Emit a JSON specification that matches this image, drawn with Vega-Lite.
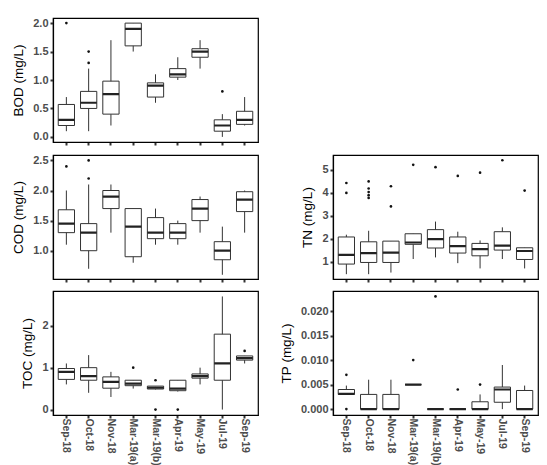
{
  "$schema": "https://vega.github.io/schema/vega-lite/v6.json",
  "padding": {"left": 11, "top": 16, "right": 5, "bottom": 0},
  "background": "white",
  "columns": 2,
  "spacing": {"row": 6, "column": 19},
  "datasets": {
    "stats": [
      {"v":"BOD","m":"Sep-18","lo":0.1,"q1":0.2,"med":0.3,"q3":0.57,"hi":0.7},
      {"v":"BOD","m":"Oct-18","lo":0.1,"q1":0.5,"med":0.6,"q3":0.8,"hi":1.2},
      {"v":"BOD","m":"Nov-18","lo":0.2,"q1":0.4,"med":0.75,"q3":0.98,"hi":1.7},
      {"v":"BOD","m":"Mar-19(a)","lo":1.5,"q1":1.6,"med":1.9,"q3":2.0,"hi":2.0},
      {"v":"BOD","m":"Mar-19(b)","lo":0.6,"q1":0.7,"med":0.9,"q3":0.95,"hi":1.1},
      {"v":"BOD","m":"Apr-19","lo":1.0,"q1":1.05,"med":1.1,"q3":1.2,"hi":1.4},
      {"v":"BOD","m":"May-19","lo":1.2,"q1":1.4,"med":1.5,"q3":1.55,"hi":1.7},
      {"v":"BOD","m":"Jul-19","lo":0.0,"q1":0.1,"med":0.2,"q3":0.3,"hi":0.4},
      {"v":"BOD","m":"Sep-19","lo":0.2,"q1":0.22,"med":0.3,"q3":0.45,"hi":0.7},
      {"v":"COD","m":"Sep-18","lo":1.1,"q1":1.3,"med":1.45,"q3":1.68,"hi":2.0},
      {"v":"COD","m":"Oct-18","lo":0.7,"q1":1.0,"med":1.3,"q3":1.45,"hi":2.1},
      {"v":"COD","m":"Nov-18","lo":1.3,"q1":1.7,"med":1.9,"q3":2.0,"hi":2.1},
      {"v":"COD","m":"Mar-19(a)","lo":0.8,"q1":0.9,"med":1.4,"q3":1.7,"hi":1.7},
      {"v":"COD","m":"Mar-19(b)","lo":1.1,"q1":1.2,"med":1.3,"q3":1.55,"hi":1.7},
      {"v":"COD","m":"Apr-19","lo":1.1,"q1":1.2,"med":1.3,"q3":1.45,"hi":1.5},
      {"v":"COD","m":"May-19","lo":1.3,"q1":1.5,"med":1.7,"q3":1.85,"hi":1.9},
      {"v":"COD","m":"Jul-19","lo":0.6,"q1":0.85,"med":1.0,"q3":1.15,"hi":1.4},
      {"v":"COD","m":"Sep-19","lo":1.3,"q1":1.65,"med":1.85,"q3":1.98,"hi":2.0},
      {"v":"TOC","m":"Sep-18","lo":0.6,"q1":0.72,"med":0.9,"q3":0.98,"hi":1.1},
      {"v":"TOC","m":"Oct-18","lo":0.4,"q1":0.7,"med":0.8,"q3":1.0,"hi":1.3},
      {"v":"TOC","m":"Nov-18","lo":0.3,"q1":0.51,"med":0.66,"q3":0.78,"hi":0.9},
      {"v":"TOC","m":"Mar-19(a)","lo":0.5,"q1":0.57,"med":0.62,"q3":0.7,"hi":0.7},
      {"v":"TOC","m":"Mar-19(b)","lo":0.48,"q1":0.49,"med":0.52,"q3":0.56,"hi":0.56},
      {"v":"TOC","m":"Apr-19","lo":0.43,"q1":0.45,"med":0.5,"q3":0.7,"hi":0.7},
      {"v":"TOC","m":"May-19","lo":0.6,"q1":0.75,"med":0.8,"q3":0.85,"hi":1.0},
      {"v":"TOC","m":"Jul-19","lo":0.0,"q1":0.7,"med":1.1,"q3":1.8,"hi":2.7},
      {"v":"TOC","m":"Sep-19","lo":1.1,"q1":1.18,"med":1.23,"q3":1.28,"hi":1.28},
      {"v":"TN","m":"Sep-18","lo":0.46,"q1":0.9,"med":1.3,"q3":2.08,"hi":2.18},
      {"v":"TN","m":"Oct-18","lo":0.46,"q1":0.97,"med":1.38,"q3":1.87,"hi":2.35},
      {"v":"TN","m":"Nov-18","lo":0.53,"q1":0.97,"med":1.4,"q3":1.9,"hi":1.9},
      {"v":"TN","m":"Mar-19(a)","lo":1.12,"q1":1.76,"med":1.84,"q3":2.22,"hi":2.22},
      {"v":"TN","m":"Mar-19(b)","lo":1.19,"q1":1.6,"med":1.99,"q3":2.4,"hi":2.75},
      {"v":"TN","m":"Apr-19","lo":0.94,"q1":1.38,"med":1.68,"q3":2.08,"hi":2.31},
      {"v":"TN","m":"May-19","lo":0.71,"q1":1.26,"med":1.55,"q3":1.8,"hi":1.93},
      {"v":"TN","m":"Jul-19","lo":1.12,"q1":1.51,"med":1.7,"q3":2.31,"hi":2.5},
      {"v":"TN","m":"Sep-19","lo":0.71,"q1":1.1,"med":1.47,"q3":1.61,"hi":1.61},
      {"v":"TP","m":"Sep-18","lo":0.003,"q1":0.003,"med":0.0031,"q3":0.004,"hi":0.0048},
      {"v":"TP","m":"Oct-18","lo":0,"q1":0,"med":0,"q3":0.003,"hi":0.006},
      {"v":"TP","m":"Nov-18","lo":0,"q1":0,"med":0,"q3":0.003,"hi":0.006},
      {"v":"TP","m":"Mar-19(a)","lo":0.005,"q1":0.005,"med":0.005,"q3":0.005,"hi":0.005},
      {"v":"TP","m":"Mar-19(b)","lo":0,"q1":0,"med":0,"q3":0,"hi":0},
      {"v":"TP","m":"Apr-19","lo":0,"q1":0,"med":0,"q3":0,"hi":0},
      {"v":"TP","m":"May-19","lo":0,"q1":0,"med":0,"q3":0.0015,"hi":0.003},
      {"v":"TP","m":"Jul-19","lo":0,"q1":0.0014,"med":0.004,"q3":0.0045,"hi":0.009},
      {"v":"TP","m":"Sep-19","lo":0,"q1":0,"med":0,"q3":0.0038,"hi":0.0048}
    ],
    "outliers": [
      {"v":"BOD","m":"Sep-18","value":2.0},
      {"v":"BOD","m":"Oct-18","value":1.5},
      {"v":"BOD","m":"Oct-18","value":1.3},
      {"v":"BOD","m":"Jul-19","value":0.8},
      {"v":"COD","m":"Sep-18","value":2.4},
      {"v":"COD","m":"Oct-18","value":2.5},
      {"v":"COD","m":"Oct-18","value":2.2},
      {"v":"TOC","m":"Mar-19(a)","value":1.0},
      {"v":"TOC","m":"Mar-19(b)","value":0.7},
      {"v":"TOC","m":"Mar-19(b)","value":0.0},
      {"v":"TOC","m":"Apr-19","value":0.0},
      {"v":"TOC","m":"Sep-19","value":1.4},
      {"v":"TN","m":"Sep-18","value":4.43},
      {"v":"TN","m":"Sep-18","value":4.0},
      {"v":"TN","m":"Oct-18","value":4.5},
      {"v":"TN","m":"Oct-18","value":4.19},
      {"v":"TN","m":"Oct-18","value":4.04},
      {"v":"TN","m":"Oct-18","value":3.9},
      {"v":"TN","m":"Oct-18","value":3.78},
      {"v":"TN","m":"Nov-18","value":4.29},
      {"v":"TN","m":"Nov-18","value":3.41},
      {"v":"TN","m":"Mar-19(a)","value":5.22},
      {"v":"TN","m":"Mar-19(b)","value":5.12},
      {"v":"TN","m":"Apr-19","value":4.74},
      {"v":"TN","m":"May-19","value":4.88},
      {"v":"TN","m":"Jul-19","value":5.42},
      {"v":"TN","m":"Sep-19","value":4.1},
      {"v":"TP","m":"Sep-18","value":0.007},
      {"v":"TP","m":"Sep-18","value":0.0},
      {"v":"TP","m":"Mar-19(a)","value":0.01},
      {"v":"TP","m":"Mar-19(b)","value":0.023},
      {"v":"TP","m":"Apr-19","value":0.004},
      {"v":"TP","m":"May-19","value":0.005}
    ]
  },
  "concat": [
    {
      "width": 205, "height": 124,
      "encoding": {"x": {"field": "m", "type": "nominal", "sort": ["Sep-18","Oct-18","Nov-18","Mar-19(a)","Mar-19(b)","Apr-19","May-19","Jul-19","Sep-19"], "scale": {"type": "band", "paddingInner": 0.27, "paddingOuter": 0.235}, "axis": {"labels": false, "title": null}}},
      "layer": [
        {"data": {"name": "stats"}, "transform": [{"filter": "datum.v === 'BOD'"}], "mark": {"type": "rule", "color": "#333", "strokeWidth": 1},
         "encoding": {"y": {"field": "lo", "type": "quantitative", "title": "BOD (mg/L)", "scale": {"domain": [-0.09, 2.09], "nice": false, "zero": false}, "axis": {"values": [0, 0.5, 1, 1.5, 2], "format": ".1f"}}, "y2": {"field": "hi"}}},
        {"data": {"name": "stats"}, "transform": [{"filter": "datum.v === 'BOD'"}], "mark": {"type": "bar", "fill": "white", "stroke": "#333", "strokeWidth": 1},
         "encoding": {"y": {"field": "q1", "type": "quantitative", "title": "BOD (mg/L)", "scale": {"domain": [-0.09, 2.09], "nice": false, "zero": false}, "axis": {"values": [0, 0.5, 1, 1.5, 2], "format": ".1f"}}, "y2": {"field": "q3"}}},
        {"data": {"name": "stats"}, "transform": [{"filter": "datum.v === 'BOD'"}], "mark": {"type": "bar", "fill": "#222", "stroke": "#222", "strokeWidth": 2.2},
         "encoding": {"y": {"field": "med", "type": "quantitative", "title": "BOD (mg/L)", "scale": {"domain": [-0.09, 2.09], "nice": false, "zero": false}, "axis": {"values": [0, 0.5, 1, 1.5, 2], "format": ".1f"}}, "y2": {"field": "med"}}},
        {"data": {"name": "outliers"}, "transform": [{"filter": "datum.v === 'BOD'"}], "mark": {"type": "circle", "size": 7, "color": "#111", "opacity": 1},
         "encoding": {"y": {"field": "value", "type": "quantitative", "title": "BOD (mg/L)", "scale": {"domain": [-0.09, 2.09], "nice": false, "zero": false}, "axis": {"values": [0, 0.5, 1, 1.5, 2], "format": ".1f"}}}}
      ]
    },
    {
      "width": 205, "height": 124,
      "view": {"stroke": null},
      "data": {"values": [{}]},
      "mark": {"type": "point", "opacity": 0}
    },
    {
      "width": 205, "height": 124,
      "encoding": {"x": {"field": "m", "type": "nominal", "sort": ["Sep-18","Oct-18","Nov-18","Mar-19(a)","Mar-19(b)","Apr-19","May-19","Jul-19","Sep-19"], "scale": {"type": "band", "paddingInner": 0.27, "paddingOuter": 0.235}, "axis": {"labels": false, "title": null}}},
      "layer": [
        {"data": {"name": "stats"}, "transform": [{"filter": "datum.v === 'COD'"}], "mark": {"type": "rule", "color": "#333", "strokeWidth": 1},
         "encoding": {"y": {"field": "lo", "type": "quantitative", "title": "COD (mg/L)", "scale": {"domain": [0.53, 2.59], "nice": false, "zero": false}, "axis": {"values": [1, 1.5, 2, 2.5], "format": ".1f"}}, "y2": {"field": "hi"}}},
        {"data": {"name": "stats"}, "transform": [{"filter": "datum.v === 'COD'"}], "mark": {"type": "bar", "fill": "white", "stroke": "#333", "strokeWidth": 1},
         "encoding": {"y": {"field": "q1", "type": "quantitative", "title": "COD (mg/L)", "scale": {"domain": [0.53, 2.59], "nice": false, "zero": false}, "axis": {"values": [1, 1.5, 2, 2.5], "format": ".1f"}}, "y2": {"field": "q3"}}},
        {"data": {"name": "stats"}, "transform": [{"filter": "datum.v === 'COD'"}], "mark": {"type": "bar", "fill": "#222", "stroke": "#222", "strokeWidth": 2.2},
         "encoding": {"y": {"field": "med", "type": "quantitative", "title": "COD (mg/L)", "scale": {"domain": [0.53, 2.59], "nice": false, "zero": false}, "axis": {"values": [1, 1.5, 2, 2.5], "format": ".1f"}}, "y2": {"field": "med"}}},
        {"data": {"name": "outliers"}, "transform": [{"filter": "datum.v === 'COD'"}], "mark": {"type": "circle", "size": 7, "color": "#111", "opacity": 1},
         "encoding": {"y": {"field": "value", "type": "quantitative", "title": "COD (mg/L)", "scale": {"domain": [0.53, 2.59], "nice": false, "zero": false}, "axis": {"values": [1, 1.5, 2, 2.5], "format": ".1f"}}}}
      ]
    },
    {
      "width": 205, "height": 124,
      "encoding": {"x": {"field": "m", "type": "nominal", "sort": ["Sep-18","Oct-18","Nov-18","Mar-19(a)","Mar-19(b)","Apr-19","May-19","Jul-19","Sep-19"], "scale": {"type": "band", "paddingInner": 0.27, "paddingOuter": 0.235}, "axis": {"labels": false, "title": null}}},
      "layer": [
        {"data": {"name": "stats"}, "transform": [{"filter": "datum.v === 'TN'"}], "mark": {"type": "rule", "color": "#333", "strokeWidth": 1},
         "encoding": {"y": {"field": "lo", "type": "quantitative", "title": "TN (mg/L)", "scale": {"domain": [0.25, 5.65], "nice": false, "zero": false}, "axis": {"values": [1, 2, 3, 4, 5], "format": "d"}}, "y2": {"field": "hi"}}},
        {"data": {"name": "stats"}, "transform": [{"filter": "datum.v === 'TN'"}], "mark": {"type": "bar", "fill": "white", "stroke": "#333", "strokeWidth": 1},
         "encoding": {"y": {"field": "q1", "type": "quantitative", "title": "TN (mg/L)", "scale": {"domain": [0.25, 5.65], "nice": false, "zero": false}, "axis": {"values": [1, 2, 3, 4, 5], "format": "d"}}, "y2": {"field": "q3"}}},
        {"data": {"name": "stats"}, "transform": [{"filter": "datum.v === 'TN'"}], "mark": {"type": "bar", "fill": "#222", "stroke": "#222", "strokeWidth": 2.2},
         "encoding": {"y": {"field": "med", "type": "quantitative", "title": "TN (mg/L)", "scale": {"domain": [0.25, 5.65], "nice": false, "zero": false}, "axis": {"values": [1, 2, 3, 4, 5], "format": "d"}}, "y2": {"field": "med"}}},
        {"data": {"name": "outliers"}, "transform": [{"filter": "datum.v === 'TN'"}], "mark": {"type": "circle", "size": 7, "color": "#111", "opacity": 1},
         "encoding": {"y": {"field": "value", "type": "quantitative", "title": "TN (mg/L)", "scale": {"domain": [0.25, 5.65], "nice": false, "zero": false}, "axis": {"values": [1, 2, 3, 4, 5], "format": "d"}}}}
      ]
    },
    {
      "width": 205, "height": 124,
      "encoding": {"x": {"field": "m", "type": "nominal", "sort": ["Sep-18","Oct-18","Nov-18","Mar-19(a)","Mar-19(b)","Apr-19","May-19","Jul-19","Sep-19"], "scale": {"type": "band", "paddingInner": 0.27, "paddingOuter": 0.235}, "axis": {"labelAngle": 90, "labelPadding": 0, "labelFontSize": 10.5, "title": null}}},
      "layer": [
        {"data": {"name": "stats"}, "transform": [{"filter": "datum.v === 'TOC'"}], "mark": {"type": "rule", "color": "#333", "strokeWidth": 1},
         "encoding": {"y": {"field": "lo", "type": "quantitative", "title": "TOC (mg/L)", "scale": {"domain": [-0.13, 2.83], "nice": false, "zero": false}, "axis": {"values": [0, 1, 2], "format": "d"}}, "y2": {"field": "hi"}}},
        {"data": {"name": "stats"}, "transform": [{"filter": "datum.v === 'TOC'"}], "mark": {"type": "bar", "fill": "white", "stroke": "#333", "strokeWidth": 1},
         "encoding": {"y": {"field": "q1", "type": "quantitative", "title": "TOC (mg/L)", "scale": {"domain": [-0.13, 2.83], "nice": false, "zero": false}, "axis": {"values": [0, 1, 2], "format": "d"}}, "y2": {"field": "q3"}}},
        {"data": {"name": "stats"}, "transform": [{"filter": "datum.v === 'TOC'"}], "mark": {"type": "bar", "fill": "#222", "stroke": "#222", "strokeWidth": 2.2},
         "encoding": {"y": {"field": "med", "type": "quantitative", "title": "TOC (mg/L)", "scale": {"domain": [-0.13, 2.83], "nice": false, "zero": false}, "axis": {"values": [0, 1, 2], "format": "d"}}, "y2": {"field": "med"}}},
        {"data": {"name": "outliers"}, "transform": [{"filter": "datum.v === 'TOC'"}], "mark": {"type": "circle", "size": 7, "color": "#111", "opacity": 1},
         "encoding": {"y": {"field": "value", "type": "quantitative", "title": "TOC (mg/L)", "scale": {"domain": [-0.13, 2.83], "nice": false, "zero": false}, "axis": {"values": [0, 1, 2], "format": "d"}}}}
      ]
    },
    {
      "width": 205, "height": 124,
      "encoding": {"x": {"field": "m", "type": "nominal", "sort": ["Sep-18","Oct-18","Nov-18","Mar-19(a)","Mar-19(b)","Apr-19","May-19","Jul-19","Sep-19"], "scale": {"type": "band", "paddingInner": 0.27, "paddingOuter": 0.235}, "axis": {"labelAngle": 90, "labelPadding": 0, "labelFontSize": 10.5, "title": null}}},
      "layer": [
        {"data": {"name": "stats"}, "transform": [{"filter": "datum.v === 'TP'"}], "mark": {"type": "rule", "color": "#333", "strokeWidth": 1},
         "encoding": {"y": {"field": "lo", "type": "quantitative", "title": "TP (mg/L)", "scale": {"domain": [-0.0012, 0.0241], "nice": false, "zero": false}, "axis": {"values": [0, 0.005, 0.01, 0.015, 0.02], "format": ".3f"}}, "y2": {"field": "hi"}}},
        {"data": {"name": "stats"}, "transform": [{"filter": "datum.v === 'TP'"}], "mark": {"type": "bar", "fill": "white", "stroke": "#333", "strokeWidth": 1},
         "encoding": {"y": {"field": "q1", "type": "quantitative", "title": "TP (mg/L)", "scale": {"domain": [-0.0012, 0.0241], "nice": false, "zero": false}, "axis": {"values": [0, 0.005, 0.01, 0.015, 0.02], "format": ".3f"}}, "y2": {"field": "q3"}}},
        {"data": {"name": "stats"}, "transform": [{"filter": "datum.v === 'TP'"}], "mark": {"type": "bar", "fill": "#222", "stroke": "#222", "strokeWidth": 2.2},
         "encoding": {"y": {"field": "med", "type": "quantitative", "title": "TP (mg/L)", "scale": {"domain": [-0.0012, 0.0241], "nice": false, "zero": false}, "axis": {"values": [0, 0.005, 0.01, 0.015, 0.02], "format": ".3f"}}, "y2": {"field": "med"}}},
        {"data": {"name": "outliers"}, "transform": [{"filter": "datum.v === 'TP'"}], "mark": {"type": "circle", "size": 7, "color": "#111", "opacity": 1},
         "encoding": {"y": {"field": "value", "type": "quantitative", "title": "TP (mg/L)", "scale": {"domain": [-0.0012, 0.0241], "nice": false, "zero": false}, "axis": {"values": [0, 0.005, 0.01, 0.015, 0.02], "format": ".3f"}}}}
      ]
    }
  ],
  "config": {
    "font": "Liberation Sans",
    "view": {"stroke": "#000", "strokeWidth": 1.2},
    "axis": {
      "grid": false,
      "domainColor": "#000",
      "domainWidth": 1.2,
      "tickColor": "#333",
      "tickSize": 3,
      "tickWidth": 2,
      "labelFont": "Liberation Sans",
      "labelFontSize": 11,
      "labelFontWeight": "bold",
      "labelColor": "#4d4d4d",
      "labelPadding": 2,
      "labelOverlap": false,
      "labelFlush": false,
      "labelBound": false,
      "titleFont": "Liberation Sans",
      "titleFontSize": 13.5,
      "titleFontWeight": "normal",
      "titleColor": "#000",
      "titlePadding": 7
    }
  }
}
